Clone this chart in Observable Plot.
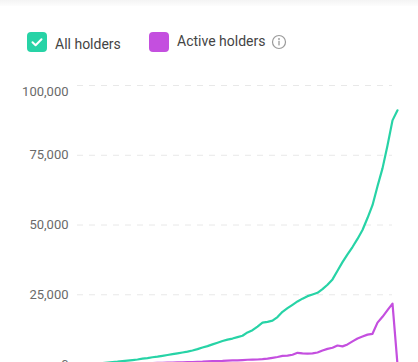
<!DOCTYPE html>
<html>
<head>
<meta charset="utf-8">
<script src="https://cdn.jsdelivr.net/npm/d3@7"></script>
<script src="https://cdn.jsdelivr.net/npm/@observablehq/plot@0.6"></script>
<style>
  html, body { margin: 0; padding: 0; background: #fff; overflow: hidden; width: 418px; height: 362px; }
  body { font-family: Roboto, "Noto Sans", sans-serif; position: relative; }
  .topbar { position: absolute; left: 0; top: 0; width: 418px; height: 6px; background: linear-gradient(#f4f4f4, #fdfdfd); }
  .legend { position: relative; height: 70px; width: 418px; }
  .box { position: absolute; width: 20px; height: 20px; border-radius: 4px; }
  .lbl { position: absolute; font-size: 14px; color: #444; white-space: nowrap; line-height: 16px; }
  #chart { position: absolute; left: 0; top: 70px; }
</style>
</head>
<body>
<div class="topbar"></div>
<div class="legend" id="legend"></div>
<div id="chart"></div>
<script>
// Series names and colours
const seriesNames = ["All holders", "Active holders"];
const seriesColors = ["#27d3a6", "#c44fdf"];

// Period index (evenly spaced observations, left to right)
const periods = d3.range(65);

// All holders (count)
const allHolders = [
  0, 100, 200, 300, 400, 500, 700, 900, 1000, 1200,
  1400, 1600, 1800, 2100, 2300, 2600, 2800, 3100, 3400, 3700,
  4000, 4300, 4600, 5000, 5500, 6100, 6600, 7200, 7800, 8400,
  8900, 9300, 9800, 10300, 11500, 12300, 13600, 15000, 15300, 15700,
  17000, 18900, 20200, 21400, 22600, 23600, 24500, 25100, 25700, 27000,
  28600, 30500, 33600, 36700, 39500, 42100, 45000, 48200, 52500, 57100,
  63900, 70300, 78500, 87500, 91100
];

// Active holders (count)
const activeHolders = [
  0, 50, 100, 100, 150, 200, 200, 250, 300, 300,
  350, 400, 400, 450, 500, 500, 550, 600, 650, 700,
  750, 800, 850, 900, 950, 1000, 1100, 1200, 1250, 1300,
  1400, 1450, 1500, 1600, 1700, 1750, 1800, 1900, 2100, 2400,
  2700, 3100, 3200, 3500, 4200, 4000, 3900, 4000, 4300, 5000,
  5600, 6000, 6800, 6500, 7200, 8300, 9300, 10000, 10700, 11000,
  15000, 17100, 19500, 21800, 0
];

// Y tick values
const yTicks = [0, 25000, 50000, 75000, 100000];

// Legend
const legend = document.getElementById("legend");
legend.innerHTML = `
  <div class="box" style="left:27px;top:32px;background:${seriesColors[0]}">
    <svg width="20" height="20" viewBox="0 0 20 20"><path d="M5.5 10.2 L8.6 13.2 L14.5 7.2" fill="none" stroke="#fff" stroke-width="2" stroke-linecap="round" stroke-linejoin="round"/></svg>
  </div>
  <div class="lbl" style="left:55px;top:36px">${seriesNames[0]}</div>
  <div class="box" style="left:149px;top:32px;background:${seriesColors[1]}"></div>
  <div class="lbl" style="left:177px;top:33px">${seriesNames[1]}</div>
  <svg style="position:absolute;left:271px;top:34px" width="16" height="16" viewBox="0 0 16 16">
    <circle cx="8" cy="8" r="6.5" fill="none" stroke="#9a9a9a" stroke-width="1.2"/>
    <circle cx="8" cy="5" r="0.9" fill="#9a9a9a"/>
    <rect x="7.35" y="6.8" width="1.3" height="4.6" fill="#9a9a9a"/>
  </svg>`;

const rows = [];
periods.forEach((p, i) => {
  rows.push({period: p, value: allHolders[i], series: seriesNames[0]});
});
periods.forEach((p, i) => {
  rows.push({period: p, value: activeHolders[i], series: seriesNames[1]});
});

const fmt = d3.format(",");

const chart = Plot.plot({
  width: 418,
  height: 310,
  marginLeft: 77,
  marginRight: 21,
  marginTop: 15,
  marginBottom: 16,
  style: {fontFamily: "Roboto, sans-serif", fontSize: "13px", background: "transparent", overflow: "visible"},
  x: {domain: [0, 64], axis: null},
  y: {domain: [0, 100000], axis: null},
  color: {domain: seriesNames, range: seriesColors},
  marks: [
    Plot.ruleY(yTicks.slice(1), {x1: 0, x2: 63, stroke: "#e8e8e8", strokeWidth: 1, strokeDasharray: "6,6"}),
    Plot.axisY(yTicks.slice(0, 4), {tickSize: 0, tickPadding: 9, tickFormat: fmt, fill: "#6a6a6a", fontSize: 13, label: null}),
    Plot.axisY([yTicks[4]], {tickSize: 0, tickPadding: 9, tickFormat: fmt, fill: "#6a6a6a", fontSize: 13, dy: 6, label: null}),
    Plot.line(rows, {x: "period", y: "value", z: "series", stroke: "series", strokeWidth: 2.2, strokeLinejoin: "round"})
  ]
});
document.getElementById("chart").appendChild(chart);
</script>
</body>
</html>
